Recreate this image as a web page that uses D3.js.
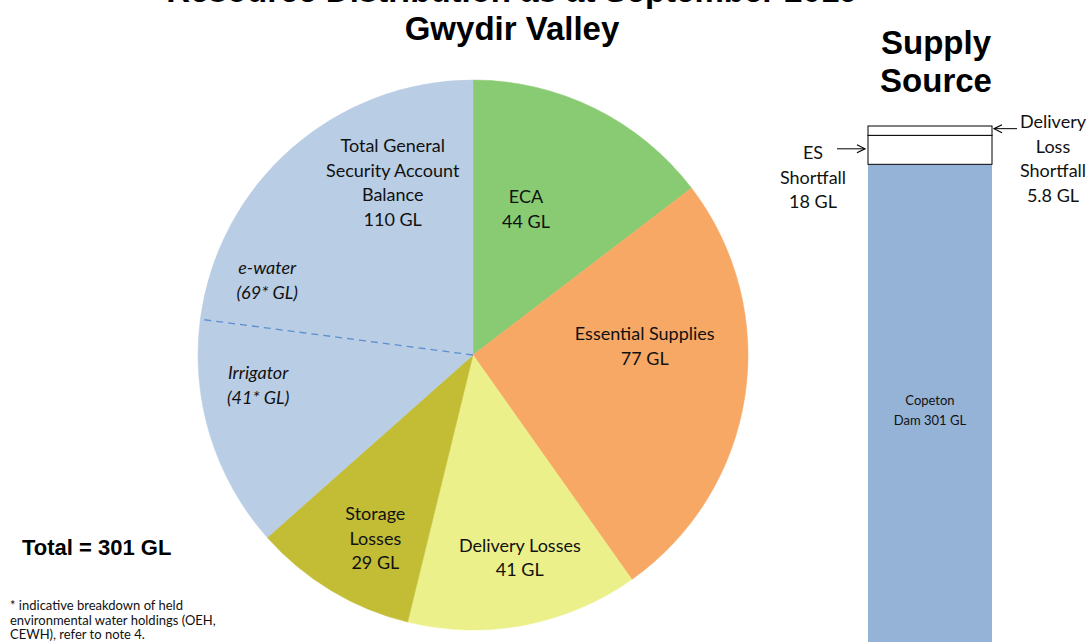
<!DOCTYPE html>
<html lang="en">
<head>
  <meta charset="UTF-8" />
  <title>Gwydir Valley</title>
  <style>
    body { margin: 0; background: #fff; }
    svg { display: block; }
    .lbl { font-family: Lato, "Noto Sans", sans-serif; font-size: 18px; fill: #111; }
    .big { font-family: "Liberation Sans", Arial, sans-serif; font-weight: bold; fill: #000; }
  </style>
</head>
<body>
<script src="https://cdn.jsdelivr.net/npm/d3@7"></script>
<script>
  // pie slices, clockwise from 12 o'clock
  var sliceNames = ["ECA", "Essential Supplies", "Delivery Losses", "Storage Losses", "Irrigator", "e-water"];
  var sliceValues = [44, 77, 41, 29, 41, 69];
  var sliceColors = ["#88cb72", "#f7a865", "#ecf08a", "#c3bd36", "#b9cde5", "#b9cde5"];

  // supply source bar, bottom to top
  var supplyNames = ["Copeton Dam", "ES Shortfall", "Delivery Loss Shortfall"];
  var supplyValues = [301, 18, 5.8];
  var supplyColors = ["#95b3d7", "#fff", "#fff"];

  var w = 1092, h = 642;
  var cx = 473, cy = 355, r = 275;

  var svg = d3.select("body").append("svg")
    .attr("width", w)
    .attr("height", h);

  // titles (the first one is mostly off the top edge, as in the source)
  svg.append("text").attr("class", "big")
    .attr("x", 512).attr("y", 1.5).attr("text-anchor", "middle")
    .style("font-size", "33px")
    .text("Resource Distribution as at September 2019");
  svg.append("text").attr("class", "big")
    .attr("x", 512).attr("y", 40).attr("text-anchor", "middle")
    .style("font-size", "33px")
    .text("Gwydir Valley");
  svg.append("text").attr("class", "big")
    .attr("x", 936).attr("y", 54).attr("text-anchor", "middle")
    .style("font-size", "33px")
    .text("Supply");
  svg.append("text").attr("class", "big")
    .attr("x", 936).attr("y", 92).attr("text-anchor", "middle")
    .style("font-size", "33px")
    .text("Source");

  // pie
  var pie = d3.pie().sort(null).value(function(d) { return d; });
  var arcs = pie(sliceValues);
  var arc = d3.arc().innerRadius(0).outerRadius(r);

  var g = svg.append("g")
    .attr("transform", "translate(" + cx + "," + cy + ")");

  g.selectAll("path.slice")
    .data(arcs)
    .enter()
    .append("path")
    .attr("class", "slice")
    .attr("d", arc)
    .attr("fill", function(d, i) { return sliceColors[i]; })
    .attr("stroke", function(d, i) { return sliceColors[i]; })
    .attr("stroke-width", 0.5);

  // dashed split between irrigator and e-water
  var split = arcs[4].endAngle;
  g.append("line")
    .attr("x1", 0).attr("y1", 0)
    .attr("x2", Math.sin(split) * r)
    .attr("y2", -Math.cos(split) * r)
    .attr("stroke", "#5b8fcf")
    .attr("stroke-width", 1.3)
    .attr("stroke-dasharray", "7,5");

  // label placement: [angle in degrees clockwise from top, distance from center]
  var labelSpots = [[20, 155], [87, 172], [167, 208], [208, 208], [262, 217], [290, 219]];
  var generalSpot = [335, 190];

  function placeLines(spot, lines, italic) {
    var a = spot[0] * Math.PI / 180;
    var x = Math.sin(a) * spot[1];
    var y = -Math.cos(a) * spot[1];
    var t = g.append("text").attr("class", "lbl")
      .attr("text-anchor", "middle")
      .style("font-style", italic ? "italic" : "normal");
    var top = y - (lines.length - 1) * 24.5 / 2;
    lines.forEach(function(s, k) {
      t.append("tspan")
        .attr("x", x)
        .attr("y", top + k * 24.5)
        .attr("dy", "0.35em")
        .text(s);
    });
  }

  placeLines(labelSpots[0], ["ECA", sliceValues[0] + " GL"]);
  placeLines(labelSpots[1], ["Essential Supplies", sliceValues[1] + " GL"]);
  placeLines(labelSpots[2], ["Delivery Losses", sliceValues[2] + " GL"]);
  placeLines(labelSpots[3], ["Storage", "Losses", sliceValues[3] + " GL"]);
  placeLines(labelSpots[4], ["Irrigator", "(" + sliceValues[4] + "* GL)"], true);
  placeLines(labelSpots[5], ["e-water", "(" + sliceValues[5] + "* GL)"], true);
  placeLines(generalSpot, ["Total General", "Security Account", "Balance",
    (sliceValues[4] + sliceValues[5]) + " GL"]);

  // supply bar
  var barTotal = d3.sum(supplyValues);
  var barTop = 126;
  var yScale = d3.scaleLinear()
    .domain([0, barTotal])
    .range([barTop + barTotal * 1.61, barTop]);

  var stacked = [];
  var acc = 0;
  supplyValues.forEach(function(v, i) {
    stacked.push({ y0: acc, y1: acc + v, i: i });
    acc += v;
  });

  svg.selectAll("rect.supply")
    .data(stacked)
    .enter()
    .append("rect")
    .attr("class", "supply")
    .attr("x", 868)
    .attr("width", 124)
    .attr("y", function(d) { return yScale(d.y1); })
    .attr("height", function(d) { return yScale(d.y0) - yScale(d.y1); })
    .attr("fill", function(d) { return supplyColors[d.i]; })
    .attr("stroke", function(d) { return d.i === 0 ? "none" : "#000"; })
    .attr("stroke-width", 1);

  var dam = svg.append("text").attr("class", "lbl")
    .attr("text-anchor", "middle")
    .style("font-size", "13px");
  dam.append("tspan").attr("x", 930).attr("y", 405).text("Copeton");
  dam.append("tspan").attr("x", 930).attr("y", 425).text("Dam  " + supplyValues[0] + "  GL");

  // arrows
  var defs = svg.append("defs");
  defs.append("marker")
    .attr("id", "arr")
    .attr("viewBox", "0 0 10 10")
    .attr("refX", 9).attr("refY", 5)
    .attr("markerWidth", 10).attr("markerHeight", 10)
    .attr("markerUnits", "userSpaceOnUse")
    .attr("orient", "auto")
    .append("path")
    .attr("d", "M1,1 L9,5 L1,9")
    .attr("fill", "none")
    .attr("stroke", "#000")
    .attr("stroke-width", 1.2);

  var esMid = (yScale(stacked[1].y0) + yScale(stacked[1].y1)) / 2;
  svg.append("line")
    .attr("x1", 837).attr("x2", 865)
    .attr("y1", esMid - 1).attr("y2", esMid - 1)
    .attr("stroke", "#000").attr("marker-end", "url(#arr)");
  var dlMid = (yScale(stacked[2].y0) + yScale(stacked[2].y1)) / 2;
  svg.append("line")
    .attr("x1", 1017).attr("x2", 994)
    .attr("y1", dlMid - 2).attr("y2", dlMid - 2)
    .attr("stroke", "#000").attr("marker-end", "url(#arr)");

  var es = svg.append("text").attr("class", "lbl").attr("text-anchor", "middle");
  ["ES", "Shortfall", supplyValues[1] + " GL"].forEach(function(s, k) {
    es.append("tspan").attr("x", 813).attr("y", 159 + k * 24.5).text(s);
  });
  var dl = svg.append("text").attr("class", "lbl").attr("text-anchor", "middle");
  ["Delivery", "Loss", "Shortfall", supplyValues[2] + " GL"].forEach(function(s, k) {
    dl.append("tspan").attr("x", 1053).attr("y", 128 + k * 24.5).text(s);
  });

  // total and footnote
  svg.append("text").attr("class", "big")
    .attr("x", 22).attr("y", 555)
    .style("font-size", "22px")
    .text("Total = " + d3.sum(sliceValues) + " GL");

  var note = svg.append("text").attr("class", "lbl").style("font-size", "13px");
  ["* indicative breakdown  of held", "environmental  water holdings (OEH,", "CEWH), refer to note 4."]
    .forEach(function(s, k) {
      note.append("tspan").attr("x", 10).attr("y", 610 + k * 14.5).text(s);
    });
</script>
</body>
</html>
